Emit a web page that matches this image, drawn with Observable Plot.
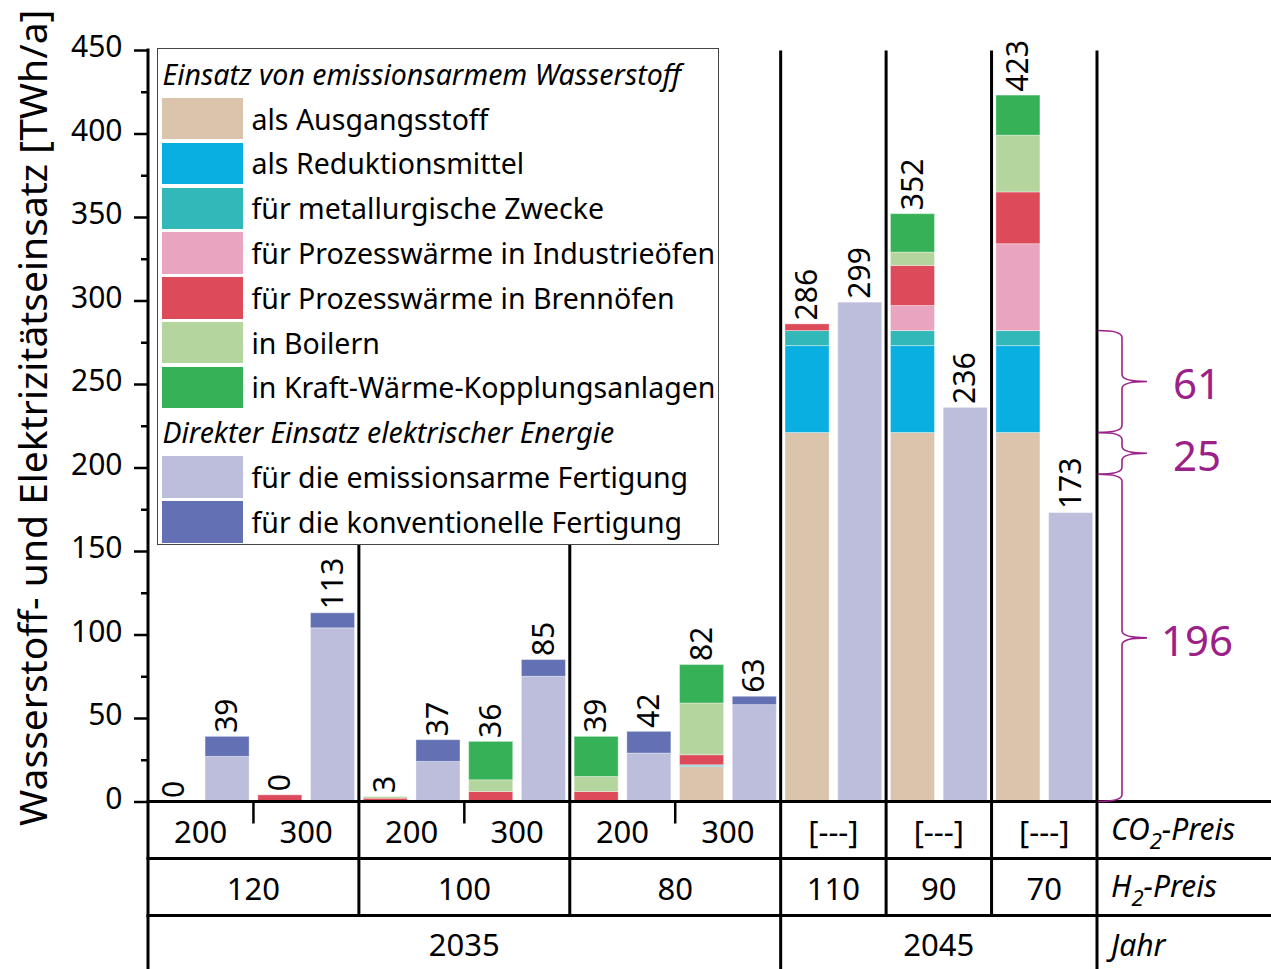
<!DOCTYPE html>
<html>
<head>
<meta charset="utf-8">
<script src="https://cdn.jsdelivr.net/npm/d3@7"></script>
<script src="https://cdn.jsdelivr.net/npm/@observablehq/plot@0.6"></script>
<style>
  html, body { margin: 0; padding: 0; background: #fff; }
  body { font-family: "Noto Sans", sans-serif; }
  #wrap { position: relative; width: 1271px; height: 969px; }
  #legend { position: absolute; left: 157px; top: 48px; width: 562px; height: 497px; box-sizing: border-box;
            border: 1.5px solid #444; background: #fff; padding-top: 2.5px; font-size: 28.5px; color: #000; }
  #legend .row { height: 44.8px; display: flex; align-items: center; white-space: nowrap; }
  #legend .title { font-style: italic; padding-left: 4.5px; }
  #legend .sw { width: 81px; height: 41.5px; margin-left: 3.5px; margin-right: 9px; flex: none; }
</style>
</head>
<body>
<div id="wrap"><div id="chart"></div><div id="legend"></div></div>
<script>
// ---------------- data ----------------
const barIds = [0,1,2,3,4,5,6,7,8,9,10,11,12,13,14,15,16,17];
const barLabels = ["0","39","0","113","3","37","36","85","39","42","82","63","286","299","352","236","423","173"];
const co2Prices = ["200","300","200","300","200","300","[---]","[---]","[---]"];
const co2BarCounts = [2,2,2,2,2,2,2,2,2];
const h2Prices = ["120","100","80","110","90","70"];
const h2BarCounts = [4,4,4,2,2,2];
const yearLabels = ["2035","2045"];
const yearBarCounts = [12,6];
const rowNames = ["CO2-Preis","H2-Preis","Jahr"];
const yTicks = [0,50,100,150,200,250,300,350,400,450];
const yMinorTicks = [25,75,125,175,225,275,325,375,425];

const h2Title = "Einsatz von emissionsarmem Wasserstoff";
const elTitle = "Direkter Einsatz elektrischer Energie";
const h2Series = ["als Ausgangsstoff","als Reduktionsmittel","für metallurgische Zwecke",
  "für Prozesswärme in Industrieöfen","für Prozesswärme in Brennöfen","in Boilern",
  "in Kraft-Wärme-Kopplungsanlagen"];
const elSeries = ["für die emissionsarme Fertigung","für die konventionelle Fertigung"];
const seriesColors = ["#dbc4ac","#0aafe2","#32b8b8","#e9a5c0","#dd4b5b","#b4d59e","#36b157","#bcbedc","#6371b4"];

const ausgangsstoff   = [0,0,0,0,   0,0,0,0,    0,0,21,0,    221,0,221,0,221,0];
const reduktion       = [0,0,0,0,   0,0,0,0,    0,0,0.5,0,   52,0,52,0,52,0];
const metallurgisch   = [0,0,0,0,   0,0,0,0,    0,0,0.5,0,   9,0,9,0,9,0];
const industrieoefen  = [0,0,0,0,   0,0,0,0,    0,0,0,0,     0,0,15,0,52,0];
const brennoefen      = [0,0,4,0,   2,0,6,0,    6,0,6,0,     4,0,24,0,31,0];
const boiler          = [0,0,0,0,   1,0,7,0,    9,0,31,0,    0,0,8,0,34,0];
const kwk             = [0,0,0,0,   0,0,23,0,   24,0,23,0,   0,0,23,0,24,0];
const emissionsarm    = [0,27,0,104, 0,24,0,75, 0,29,0,58,   0,299,0,236,0,173];
const konventionell   = [0,12,0,9,   0,13,0,10, 0,13,0,5,    0,0,0,0,0,0];

const braceFrom = [0,196,221];
const braceTo = [196,221,282];
const braceLabels = ["196","25","61"];

// ---------------- build tables ----------------
const seriesNames = [...h2Series, ...elSeries];
const seriesValues = [ausgangsstoff,reduktion,metallurgisch,industrieoefen,brennoefen,boiler,kwk,emissionsarm,konventionell];
const segments = [];
barIds.forEach((b,i) => seriesNames.forEach((s,k) => {
  const v = seriesValues[k][i];
  if (v > 0) segments.push({bar: b, series: s, value: v});
}));
const totals = barIds.map((b,i) => ({bar: b, label: barLabels[i], total: d3.sum(seriesValues, a => a[i])}));
const braces = braceFrom.map((f,i) => ({from: f, to: braceTo[i], label: braceLabels[i]}));

const PURPLE = "#9b2189";

function spans(counts, labels) {
  let s = 0;
  return counts.map((c,i) => { const r = {a: s, b: s + c - 1, label: labels[i]}; s += c; return r; });
}

// ---------------- decorations (table, frame, braces) ----------------
function decorations(index, scales, values, dims) {
  const x = scales.x, y = scales.y;
  const {width, height, marginLeft, marginRight, marginBottom} = dims;
  const left = marginLeft, right = width - marginRight, base = height - marginBottom;
  const top = y(450);
  const bw = x.bandwidth(), step = x.step(), gap = (step - bw) / 2;
  const n = barIds.length;
  const slot = k => k < n ? x(barIds[k]) - gap : x(barIds[n-1]) + bw + gap;
  const row1 = base + 57, row2 = base + 114;
  const g = d3.create("svg:g").attr("fill", "none").attr("text-anchor", "start");
  const line = (x1,y1,x2,y2,w=3) => g.append("line").attr("x1",x1).attr("y1",y1).attr("x2",x2).attr("y2",y2)
      .attr("stroke","#000").attr("stroke-width",w);
  // horizontal table lines
  [base, row1, row2].forEach(yy => line(left - 1.5, yy, width, yy));
  // left axis line
  line(left, top - 1.5, left, height);
  // separators
  const co2Spans = spans(co2BarCounts, co2Prices);
  const h2Spans = spans(h2BarCounts, h2Prices);
  const yrSpans = spans(yearBarCounts, yearLabels);
  const yearBoundaries = new Set(yrSpans.map(s => s.b + 1));
  h2Spans.forEach(s => {
    const k = s.b + 1;
    line(slot(k), top + 0.5, slot(k), yearBoundaries.has(k) ? height : row2);
  });
  // CO2 small ticks inside H2 groups
  co2Spans.forEach(s => {
    const k = s.b + 1;
    if (!h2Spans.some(h => h.b + 1 === k)) line(slot(k), base, slot(k), base + 22, 2.5);
  });
  // table texts
  const txt = (xx, yy, t, opts = {}) => g.append("text").attr("x", xx).attr("y", yy).attr("dy","0.35em")
      .attr("text-anchor", opts.anchor || "middle").attr("fill", opts.fill || "#000")
      .attr("font-size", opts.size || 30).attr("font-style", opts.italic ? "italic" : null).text(t);
  const mid = s => (x(barIds[s.a]) + x(barIds[s.b]) + bw) / 2;
  co2Spans.forEach(s => txt(mid(s), base + 31, s.label, {size: 31}));
  h2Spans.forEach(s => txt(mid(s), row1 + 31, s.label, {size: 31}));
  yrSpans.forEach(s => txt(mid(s), row2 + 30, s.label, {size: 31}));
  // right column labels with subscripts
  const lab = (yy, main, sub, rest) => {
    const t = g.append("text").attr("x", right + 14).attr("y", yy).attr("dy","0.35em")
      .attr("text-anchor","start").attr("fill","#000").attr("font-size",30).attr("font-style","italic");
    t.append("tspan").text(main);
    if (sub) {
      t.append("tspan").attr("dy", 9).attr("font-size", 22).text(sub);
      t.append("tspan").attr("dy", -9).text(rest);
    }
  };
  lab(base + 28, "CO", "2", "-Preis");
  lab(row1 + 28, "H", "2", "-Preis");
  lab(row2 + 30, rowNames[2]);
  // braces
  const x0 = right + 1, xb = right + 25, xt = right + 50;
  braces.forEach(b => {
    const y1 = y(b.to), y2 = y(b.from), ym = (y1 + y2) / 2, r = 7;
    const p = `M${x0},${y1} Q${xb},${y1} ${xb},${y1 + r} L${xb},${ym - r} Q${xb},${ym} ${xt},${ym}
               Q${xb},${ym} ${xb},${ym + r} L${xb},${y2 - r} Q${xb},${y2} ${x0},${y2}`;
    g.append("path").attr("d", p).attr("stroke", PURPLE).attr("stroke-width", 1.6).attr("fill","none");
    txt(right + 100, ym + 3, b.label, {fill: PURPLE, size: 42});
  });
  // y axis title
  g.append("text").attr("transform", `translate(33,${(top + base) / 2 - 8}) rotate(-90)`)
    .attr("text-anchor","middle").attr("dy","0.35em").attr("fill","#000").attr("font-size",39)
    .text("Wasserstoff- und Elektrizitätseinsatz [TWh/a]");
  return g.node();
}

// ---------------- plot ----------------
const chart = Plot.plot({
  width: 1271,
  height: 969,
  marginLeft: 148,
  marginRight: 174,
  marginTop: 50,
  marginBottom: 167.5,
  style: {fontFamily: "Noto Sans", fontSize: "30px", color: "#000", background: "#fff", overflow: "visible"},
  x: {type: "band", domain: barIds, paddingInner: 0.165, paddingOuter: 0.0825, round: false, axis: null},
  y: {domain: [0, 450]},
  color: {domain: seriesNames, range: seriesColors},
  marks: [
    Plot.axisY(yTicks, {tickSize: 14, strokeWidth: 2.5, label: null, tickFormat: () => ""}),
    Plot.axisY(yTicks, {tickSize: 0, tickPadding: 26, fontSize: 30, label: null, dy: -3, tickFormat: d => String(d)}),
    Plot.axisY(yMinorTicks, {tickSize: 7, strokeWidth: 2.5, label: null, tickFormat: () => ""}),
    Plot.barY(segments, {x: "bar", y: "value", fill: "series", stroke: "#fff", strokeWidth: 1, strokeOpacity: 0.35}),
    Plot.text(totals, {x: "bar", y: "total", text: "label", rotate: -90, textAnchor: "start", dy: -4, fontSize: 30, fill: "#000"}),
    decorations
  ]
});
document.getElementById("chart").appendChild(chart);

// ---------------- legend ----------------
const legend = d3.select("#legend");
const addTitle = t => legend.append("div").attr("class","row title").text(t);
const addItem = (name) => {
  const r = legend.append("div").attr("class","row");
  r.append("div").attr("class","sw").style("background", seriesColors[seriesNames.indexOf(name)]);
  r.append("span").text(name);
};
addTitle(h2Title);
h2Series.forEach(addItem);
addTitle(elTitle);
elSeries.forEach(addItem);
</script>
</body>
</html>
